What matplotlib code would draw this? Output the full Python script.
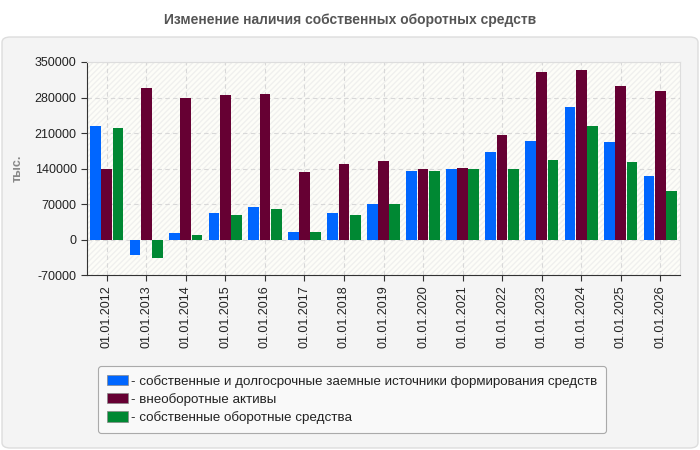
import matplotlib
matplotlib.use("Agg")
import matplotlib.pyplot as plt
from matplotlib.patches import FancyBboxPatch, Rectangle, Patch
import numpy as np

plt.rcParams['font.family'] = ['Liberation Sans', 'DejaVu Sans']

categories = ["01.01.2012", "01.01.2013", "01.01.2014", "01.01.2015", "01.01.2016",
              "01.01.2017", "01.01.2018", "01.01.2019", "01.01.2020", "01.01.2021",
              "01.01.2022", "01.01.2023", "01.01.2024", "01.01.2025", "01.01.2026"]
own_longterm = [224600, -31500, 13800, 53200, 65000, 15760, 53200, 70900, 135900, 139900,
                173400, 195000, 262000, 193000, 126100]
noncurrent = [138600, 299450, 279750, 285660, 287600, 134000, 149700, 155600, 139900, 141800,
              206900, 331000, 334900, 303400, 293500]
own_working = [220650, -35500, 9850, 49250, 61000, 15760, 49250, 70900, 135900, 139900,
               139900, 157600, 224600, 153700, 96500]
series_names = ["- собственные и долгосрочные заемные источники формирования средств",
                "- внеоборотные активы",
                "- собственные оборотные средства"]
colors = ["#0066ff", "#660033", "#008833"]
yticks = [-70000, 0, 70000, 140000, 210000, 280000, 350000]

W, H = 700, 450
fig = plt.figure(figsize=(7, 4.5), dpi=100)
fig.patch.set_facecolor("white")

# outer panel
panel = FancyBboxPatch((2 / W, 2 / H), 696 / W, 411 / H,
                       boxstyle="round,pad=0,rounding_size=0.012",
                       transform=fig.transFigure, facecolor="#f4f4f4",
                       edgecolor="#dddddd", linewidth=1, zorder=-10)
fig.patches.append(panel)

fig.text(0.5, 1 - 20 / H, "Изменение наличия собственных оборотных средств",
         ha="center", va="center", fontsize=10, fontweight="bold", color="#555555")

left, right, top, bottom = 87, 680, 62, 275
ax = fig.add_axes([left / W, 1 - bottom / H, (right - left) / W, (bottom - top) / H])
ax.set_zorder(1)
ax.set_facecolor("#fdfdf8")
ax.add_patch(Rectangle((0, 0), 1, 1, transform=ax.transAxes, facecolor="none",
                       edgecolor="#f0f0ee", hatch="//////", linewidth=0, zorder=0))

x = np.arange(len(categories))
bw = 0.27
step = 0.285
for i, (vals, c) in enumerate(zip([own_longterm, noncurrent, own_working], colors)):
    ax.bar(x + (i - 1) * step, vals, width=bw, color=c, zorder=3)

ax.set_xlim(-0.5, len(categories) - 0.5)
ax.set_ylim(-70000, 350000)
ax.set_yticks(yticks)
ax.set_yticklabels([str(v) for v in yticks], fontsize=9, color="#222222")
ax.set_xticks(x)
ax.set_xticklabels(categories, rotation=90, fontsize=9, color="#222222")
ax.tick_params(axis="both", length=4, color="#333333")
ax.grid(True, color="#d8d8d8", linestyle=(0, (4, 3)), linewidth=0.8, zorder=1)
ax.set_axisbelow(True)
for s in ["top", "right"]:
    ax.spines[s].set_color("#dddddd")
for s in ["left", "bottom"]:
    ax.spines[s].set_color("#333333")
ax.set_ylabel("тыс.", fontsize=9, fontweight="bold", color="#888888")
ax.yaxis.set_label_coords(-(left - 24) / (right - left), 0.5)

handles = [Patch(facecolor=c, edgecolor="#888888", linewidth=0.5) for c in colors]
leg = fig.legend(handles, series_names, loc="upper left",
                 bbox_to_anchor=(98 / W, 1 - 366 / H), fontsize=9.6,
                 frameon=True, fancybox=True, edgecolor="#aaaaaa", facecolor="#f9f9f9",
                 handlelength=1.6, handleheight=0.8, handletextpad=0.2,
                 labelspacing=0.4, borderpad=0.65, framealpha=1, borderaxespad=0)
leg.get_frame().set_linewidth(0.8)
for t in leg.get_texts():
    t.set_color("#222222")

fig.savefig("out.png", dpi=100, facecolor=fig.get_facecolor())
